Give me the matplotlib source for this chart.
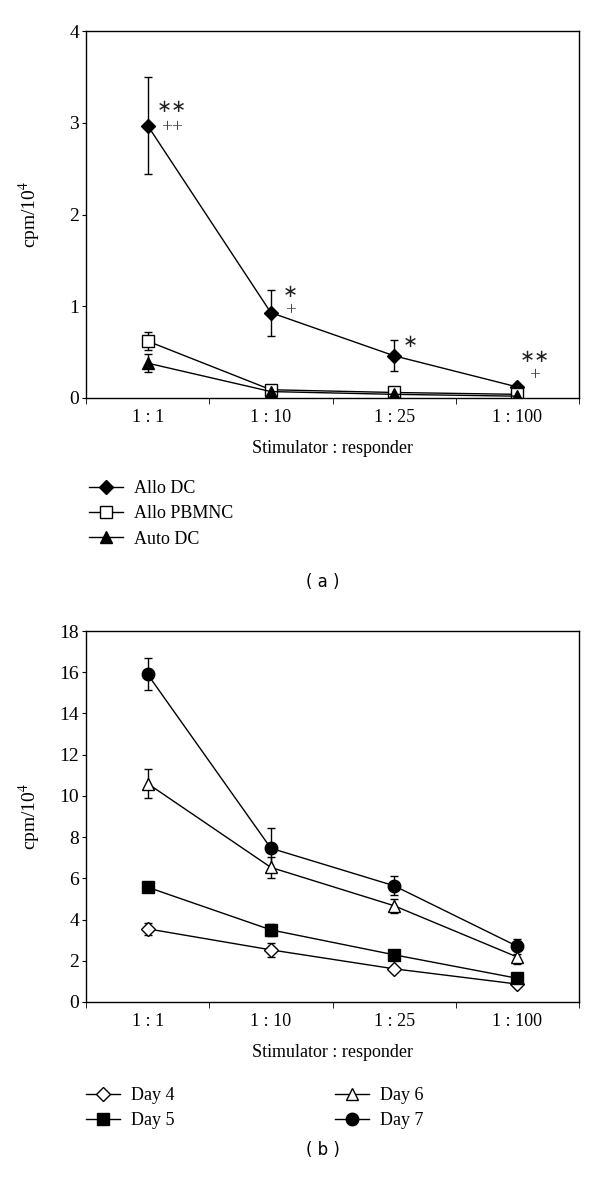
import matplotlib.pyplot as plt
from matplotlib.ticker import FixedLocator, NullFormatter

plt.rcParams['font.family'] = ['Liberation Serif', 'DejaVu Serif']
plt.rcParams['mathtext.fontset'] = 'stix'

ratios = ["1 : 1", "1 : 10", "1 : 25", "1 : 100"]

# panel (a)
allo_dc = [2.97, 0.93, 0.46, 0.12]
allo_dc_err = [0.53, 0.25, 0.17, 0.02]
allo_pbmnc = [0.62, 0.09, 0.06, 0.04]
allo_pbmnc_err = [0.10, 0.01, 0.01, 0.01]
auto_dc = [0.38, 0.07, 0.04, 0.02]
auto_dc_err = [0.10, 0.01, 0.01, 0.01]

# significance marks: category index, y value, text
stars = [(0, 3.17, "\u2217\u2217"), (1, 1.15, "\u2217"), (2, 0.61, "\u2217"), (3, 0.45, "\u2217\u2217")]
plusses = [(0, 2.95, "++"), (1, 0.95, "+"), (3, 0.24, "+")]
star_dx = [0.2, 0.16, 0.13, 0.14]
plus_dx = [0.2, 0.16, 0.14]

# panel (b)
day4 = [3.55, 2.53, 1.61, 0.87]
day4_err = [0.30, 0.35, 0.10, 0.10]
day5 = [5.57, 3.50, 2.29, 1.15]
day5_err = [0.25, 0.30, 0.15, 0.10]
day6 = [10.6, 6.53, 4.67, 2.18]
day6_err = [0.72, 0.50, 0.35, 0.32]
day7 = [15.9, 7.46, 5.64, 2.70]
day7_err = [0.78, 1.00, 0.45, 0.37]

fig = plt.figure(figsize=(6, 11.79), dpi=100)
ax1 = fig.add_axes([86 / 600, 1 - 398 / 1179, 493 / 600, 367 / 1179])
ax2 = fig.add_axes([86 / 600, 1 - 1002 / 1179, 493 / 600, 371 / 1179])

x = list(range(len(ratios)))


def series(ax, y, err, marker, face, label, ms=8):
    return ax.errorbar(x, y, yerr=err, color='black', marker=marker, ms=ms,
                       mfc=face, mec='black', mew=1, lw=1, elinewidth=1,
                       capsize=3, capthick=1, label=label)[0]


def style(ax, ymax, step):
    ax.set_xlim(-0.5, 3.5)
    ax.set_ylim(0, ymax)
    ax.set_yticks(range(0, ymax + 1, step))
    ax.set_xticks(x)
    ax.set_xticklabels(ratios)
    ax.xaxis.set_minor_locator(FixedLocator([-0.5, 0.5, 1.5, 2.5, 3.5]))
    ax.xaxis.set_minor_formatter(NullFormatter())
    ax.tick_params(axis='x', which='major', length=0, labelsize=13, pad=8)
    ax.tick_params(axis='x', which='minor', length=4, direction='out')
    ax.tick_params(axis='y', length=3, direction='out', labelsize=14, pad=2)
    for s in ax.spines.values():
        s.set_linewidth(1)
    ax.set_xlabel("Stimulator : responder", fontsize=13, labelpad=10)
    ax.set_ylabel("cpm/10$^{4}$", fontsize=14)
    ax.yaxis.set_label_coords(-0.088, 0.5)


h1 = series(ax1, allo_dc, allo_dc_err, 'D', 'black', "Allo DC", ms=7)
h2 = series(ax1, allo_pbmnc, allo_pbmnc_err, 's', 'white', "Allo PBMNC")
h3 = series(ax1, auto_dc, auto_dc_err, '^', 'black', "Auto DC")
for (i, yv, t), dx in zip(stars, star_dx):
    ax1.text(i + dx, yv, t, family='DejaVu Sans', fontsize=13,
             ha='center', va='center', color='#222222')
for (i, yv, t), dx in zip(plusses, plus_dx):
    ax1.text(i + dx, yv, t, fontsize=14, ha='center', va='center', color='#444444')
style(ax1, 4, 1)

g4 = series(ax2, day4, day4_err, 'D', 'white', "Day 4", ms=7)
g5 = series(ax2, day5, day5_err, 's', 'black', "Day 5")
g6 = series(ax2, day6, day6_err, '^', 'white', "Day 6", ms=9)
g7 = series(ax2, day7, day7_err, 'o', 'black', "Day 7", ms=9)
style(ax2, 18, 2)

leg_kw = dict(frameon=False, fontsize=13, handlelength=1.9, handletextpad=0.6,
              labelspacing=0.46, borderpad=0, borderaxespad=0, loc='upper left')
fig.legend([h1, h2, h3], ["Allo DC", "Allo PBMNC", "Auto DC"],
           bbox_to_anchor=(89 / 600, 1 - 480 / 1179), **leg_kw)
fig.legend([g4, g5], ["Day 4", "Day 5"],
           bbox_to_anchor=(86 / 600, 1 - 1087 / 1179), **leg_kw)
fig.legend([g6, g7], ["Day 6", "Day 7"],
           bbox_to_anchor=(335 / 600, 1 - 1087 / 1179), **leg_kw)

fig.text(323 / 600, 1 - 582 / 1179, "( a )", family='DejaVu Sans', fontsize=12,
         ha='center', va='center')
fig.text(323 / 600, 1 - 1150 / 1179, "( b )", family='DejaVu Sans', fontsize=12,
         ha='center', va='center')

fig.savefig('out.png', dpi=100)
